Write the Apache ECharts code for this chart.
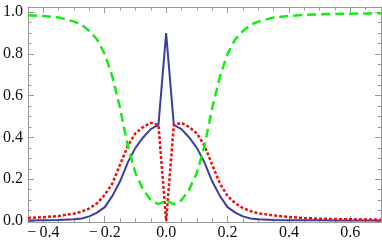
<!DOCTYPE html>
<html>
<head>
<meta charset="utf-8">
<script src="https://cdn.jsdelivr.net/npm/echarts@6/dist/echarts.min.js"></script>
<style>
html,body{margin:0;padding:0;background:#fff;}
#chart{width:382px;height:245px;}
</style>
</head>
<body>
<div id="chart"></div>
<script>
// ---- data ----
const xValues = [-0.45, -0.4, -0.35, -0.3, -0.275, -0.25, -0.225, -0.2, -0.175, -0.15, -0.125, -0.1, -0.075, -0.05, -0.025,
  0, 0.025, 0.05, 0.075, 0.1, 0.125, 0.15, 0.175, 0.2, 0.225, 0.25, 0.275, 0.3, 0.35, 0.4, 0.45, 0.5, 0.55, 0.6, 0.65, 0.7];
const blueValues = [0.002, 0.003, 0.004, 0.008, 0.012, 0.022, 0.04, 0.066, 0.12, 0.19, 0.28, 0.35, 0.40, 0.44, 0.46,
  0.90, 0.46, 0.44, 0.40, 0.35, 0.28, 0.19, 0.12, 0.066, 0.04, 0.022, 0.012, 0.008, 0.004, 0.003, 0.003, 0.003, 0.002, 0.002, 0.002, 0.002];
const redValues = [0.014, 0.018, 0.024, 0.035, 0.045, 0.06, 0.085, 0.125, 0.18, 0.27, 0.36, 0.42, 0.45, 0.47, 0.46,
  0.0, 0.46, 0.47, 0.45, 0.42, 0.36, 0.27, 0.18, 0.12, 0.085, 0.062, 0.047, 0.037, 0.026, 0.019, 0.014, 0.011, 0.009, 0.008, 0.007, 0.006];
const greenValues = [0.986, 0.982, 0.975, 0.955, 0.94, 0.91, 0.87, 0.80, 0.69, 0.54, 0.36, 0.23, 0.15, 0.10, 0.08,
  0.10, 0.08, 0.10, 0.15, 0.23, 0.36, 0.54, 0.69, 0.80, 0.87, 0.91, 0.94, 0.955, 0.975, 0.982, 0.987, 0.99, 0.992, 0.993, 0.994, 0.995];
const xMajorTicks = [-0.4, -0.2, 0, 0.2, 0.4, 0.6];
const yMajorTicks = [0, 0.2, 0.4, 0.6, 0.8, 1.0];

// minor ticks every 0.05
function minorTicks(lo, hi, majors) {
  const out = [];
  for (let k = Math.ceil(lo / 0.05 - 1e-9); k * 0.05 <= hi + 1e-9; k++) {
    const v = +(k * 0.05).toFixed(2);
    if (!majors.some(m => Math.abs(m - v) < 1e-9)) out.push(v);
  }
  return out;
}
const X_MIN = -0.45, X_MAX = 0.7, Y_MIN = -0.005, Y_MAX = 1.025;
const xMinorTicks = minorTicks(X_MIN, X_MAX, xMajorTicks);
const yMinorTicks = minorTicks(0, 1.0, yMajorTicks);

const FRAME = '#9a9a9a';
const FONT = 'Liberation Serif';
function fmt(v) {
  const s = Math.abs(v).toFixed(1);
  return v < -1e-9 ? '\u2212\u2009' + s : s;
}
function axisPair(kind, pos, majors, minors, labels) {
  const base = {
    type: 'value',
    min: kind === 'x' ? X_MIN : Y_MIN,
    max: kind === 'x' ? X_MAX : Y_MAX,
    position: pos,
    splitLine: { show: false }
  };
  const major = Object.assign({}, base, {
    axisLine: { show: true, onZero: false, lineStyle: { color: FRAME, width: 1 } },
    axisTick: { show: true, inside: true, length: 6, customValues: majors, lineStyle: { color: FRAME, width: 1 } },
    axisLabel: labels ? {
      show: true, customValues: majors, formatter: fmt,
      fontFamily: FONT, fontSize: 16, color: '#111', margin: kind === 'x' ? 3 : 5
    } : { show: false }
  });
  const minor = Object.assign({}, base, {
    axisLine: { show: false, onZero: false },
    axisTick: { show: true, inside: true, length: 3.5, customValues: minors, lineStyle: { color: FRAME, width: 1 } },
    axisLabel: { show: false }
  });
  return [major, minor];
}

const chart = echarts.init(document.getElementById('chart'), null, { renderer: 'canvas' });
chart.setOption({
  animation: false,
  backgroundColor: '#fff',
  grid: { left: 26, right: 1, top: 7, bottom: 23, containLabel: false },
  xAxis: [].concat(axisPair('x', 'bottom', xMajorTicks, xMinorTicks, true), axisPair('x', 'top', xMajorTicks, xMinorTicks, false)),
  yAxis: [].concat(axisPair('y', 'left', yMajorTicks, yMinorTicks, true), axisPair('y', 'right', yMajorTicks, yMinorTicks, false)),
  series: [
    {
      type: 'line', xAxisIndex: 0, yAxisIndex: 0, symbol: 'none', clip: true,
      data: xValues.map((x, i) => [x, blueValues[i]]),
      lineStyle: { color: '#3d3d9e', width: 2, type: 'solid' }
    },
    {
      type: 'line', xAxisIndex: 0, yAxisIndex: 0, symbol: 'none', clip: true,
      data: xValues.map((x, i) => [x, redValues[i]]),
      lineStyle: { color: '#f01010', width: 2.5, type: [3, 2] }
    },
    {
      type: 'line', xAxisIndex: 0, yAxisIndex: 0, symbol: 'none', clip: true,
      data: xValues.map((x, i) => [x, greenValues[i]]),
      lineStyle: { color: '#11ee11', width: 2.5, type: [9, 5] }
    }
  ]
});
</script>
</body>
</html>
